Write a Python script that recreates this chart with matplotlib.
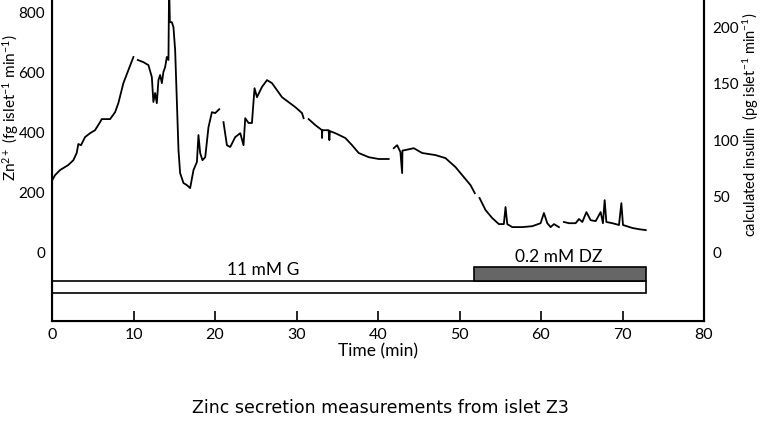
import numpy as np
import matplotlib
matplotlib.use("Agg")
from matplotlib import pyplot as plt

nan = np.nan

# time (min) and Zn2+ secretion (fg islet-1 min-1), nan = gap in the trace
time = [0.04, 0.37, 0.98, 2.0, 2.62, 3.03, 3.23, 3.56, 4.05, 4.67, 5.28, 5.9, 6.1, 7.13,
        7.74, 8.14, 8.76, 9.37, 9.99, 10.2,
        10.53, 11.2, 11.83, 12.25, 12.44, 12.65, 12.86, 13.06, 13.27, 13.48, 13.67, 13.88,
        14.09, 14.29, 14.3, 14.37, 14.46, 14.7, 14.9, 15.11, 15.32, 15.52, 15.72, 16.13,
        16.55, 16.95, 17.36, 17.78, 17.97, 18.18, 18.46, 18.8, 19.2, 19.62, 20.02, 20.52, 20.8,
        21.04, 21.46, 21.87, 22.48, 23.1, 23.5, 23.71, 24.12, 24.53, 24.85, 25.15, 25.76,
        26.38, 26.99, 28.22, 29.85, 30.68, 30.87, 31.2,
        31.49, 32.31, 33.13, 33.14, 33.16, 33.94, 34.03, 34.1, 34.77, 35.99, 36.82, 37.63,
        38.86, 40.09, 41.31, 41.6,
        41.93, 42.35, 42.75, 42.96, 43.0, 43.37, 44.39, 45.42, 47.05, 48.28, 49.51, 50.53,
        51.35, 51.88, 52.1,
        52.46, 53.19, 54.02, 54.83, 55.44, 55.65, 55.86, 56.47, 57.7, 58.93, 59.34, 59.95,
        60.36, 60.77, 61.18, 61.59, 62.2, 62.5,
        62.81, 63.43, 64.25, 64.66, 65.07, 65.57, 66.09, 66.71, 67.32, 67.6, 67.81, 68.02,
        68.76, 69.57, 69.86, 70.06, 71.22, 72.03, 72.85]
zinc = [242, 258, 275, 292, 308, 332, 362, 358, 385, 398, 408, 435, 445, 445,
        468, 498, 565, 608, 652, nan,
        642, 635, 625, 585, 502, 532, 498, 575, 592, 565, 602, 618,
        652, 642, 675, 900, 768, 768, 752, 675, 508, 342, 265, 232,
        225, 215, 275, 302, 392, 332, 308, 318, 418, 468, 465, 478, nan,
        435, 358, 352, 385, 398, 358, 448, 432, 432, 548, 518, 552,
        575, 565, 518, 485, 465, 448, nan,
        445, 425, 408, 382, 408, 408, 375, 405, 398, 382, 358, 332,
        318, 312, 312, nan,
        348, 358, 335, 265, 340, 342, 348, 332, 325, 315, 285, 252,
        225, 198, nan,
        182, 142, 115, 95, 95, 152, 95, 85, 85, 88, 92, 98,
        132, 98, 85, 95, 85, nan,
        102, 98, 98, 112, 102, 135, 108, 105, 135, 98, 175, 102,
        98, 92, 165, 92, 82, 78, 75]

# treatment bars: (label, start, end)
glucose = ("11 mM G", 0, 72.9)
diazoxide = ("0.2 mM DZ", 51.8, 72.9)

xticks = [0, 10, 20, 30, 40, 50, 60, 70, 80]
yticks_left = [0, 200, 400, 600, 800]
yticks_right = [0, 50, 100, 150, 200]
ratio = 3.75  # fg Zn per pg insulin on the two scales

plt.rcParams['font.family'] = ['Lato', 'DejaVu Sans']
plt.rcParams['mathtext.fontset'] = 'custom'
plt.rcParams['mathtext.rm'] = 'Lato'
plt.rcParams['mathtext.it'] = 'Lato'

fig = plt.figure(figsize=(7.61, 4.30), dpi=100)
ax = fig.add_axes([52/761, 1 - 321/430, 652/761, 321/430])

ax.plot(time, zinc, color='black', lw=1.3)

ax.barh(-115, glucose[2] - glucose[1], left=glucose[1], height=42,
        color='white', edgecolor='black', lw=1.2)
ax.barh(-71.5, diazoxide[2] - diazoxide[1], left=diazoxide[1], height=45,
        color='#666666', edgecolor='black', lw=1.2)
ax.text(25.9, -58, glucose[0], ha='center', va='center', fontsize=12.5)
ax.text(62.2, -14, diazoxide[0], ha='center', va='center', fontsize=12.5)

ax.set_xlim(0, 80)
ax.set_ylim(-228, 842)
ax.set_xticks(xticks)
ax.set_yticks(yticks_left)
ax.tick_params(axis='x', direction='in', length=7, width=1.2, pad=5, labelsize=11.5)
ax.tick_params(axis='y', length=0, pad=5, labelsize=11)
ax.spines['top'].set_visible(False)
for s in ['left', 'bottom', 'right']:
    ax.spines[s].set_linewidth(1.5)

ax.set_xlabel('Time (min)', fontsize=12.5, labelpad=1)
ax.set_ylabel('Zn$^{2+}$ (fg islet$^{-1}$ min$^{-1}$)', fontsize=11)
ax.yaxis.set_label_coords(-0.048, 0.665)

ax2 = ax.twinx()
ax2.set_ylim(-228 / ratio, 842 / ratio)
ax2.set_yticks(yticks_right)
ax2.tick_params(axis='y', length=0, pad=6, labelsize=11)
ax2.spines['top'].set_visible(False)
ax2.spines['right'].set_linewidth(1.5)
ax2.set_ylabel('calculated insulin  (pg islet$^{-1}$ min$^{-1}$)', fontsize=10.5)
ax2.yaxis.set_label_coords(1.057, 0.61)

fig.text(0.5, 1 - 408/430, 'Zinc secretion measurements from islet Z3',
         ha='center', va='center', fontsize=12.5, family='DejaVu Sans')

fig.savefig('out.png', dpi=100)
